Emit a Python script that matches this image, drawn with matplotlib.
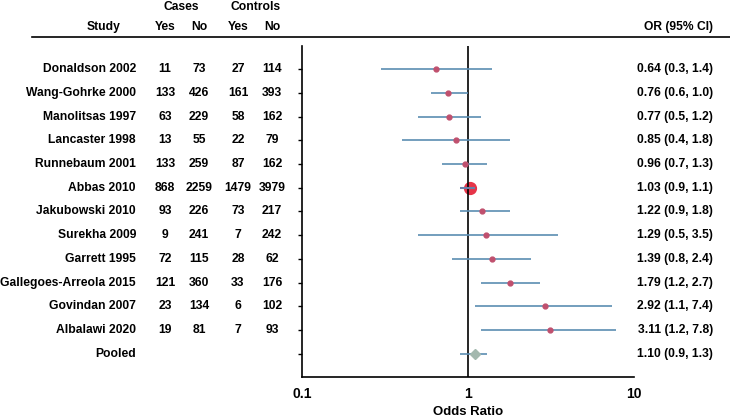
import matplotlib
matplotlib.use("Agg")
import matplotlib.pyplot as plt
import numpy as np

plt.rcParams['font.family'] = ['Liberation Sans', 'DejaVu Sans']
plt.rcParams['font.weight'] = 'bold'

studies = ["Donaldson 2002", "Wang-Gohrke 2000", "Manolitsas 1997", "Lancaster 1998",
           "Runnebaum 2001", "Abbas 2010", "Jakubowski 2010", "Surekha 2009",
           "Garrett 1995", "Gallegoes-Arreola 2015", "Govindan 2007", "Albalawi 2020", "Pooled"]
cases_yes = ["11", "133", "63", "13", "133", "868", "93", "9", "72", "121", "23", "19", ""]
cases_no = ["73", "426", "229", "55", "259", "2259", "226", "241", "115", "360", "134", "81", ""]
ctrl_yes = ["27", "161", "58", "22", "87", "1479", "73", "7", "28", "33", "6", "7", ""]
ctrl_no = ["114", "393", "162", "79", "162", "3979", "217", "242", "62", "176", "102", "93", ""]
odds = [0.64, 0.76, 0.77, 0.85, 0.96, 1.03, 1.22, 1.29, 1.39, 1.79, 2.92, 3.11, 1.10]
lower = [0.3, 0.6, 0.5, 0.4, 0.7, 0.9, 0.9, 0.5, 0.8, 1.2, 1.1, 1.2, 0.9]
upper = [1.4, 1.0, 1.2, 1.8, 1.3, 1.1, 1.8, 3.5, 2.4, 2.7, 7.4, 7.8, 1.3]
or_labels = ["0.64 (0.3, 1.4)", "0.76 (0.6, 1.0)", "0.77 (0.5, 1.2)", "0.85 (0.4, 1.8)",
             "0.96 (0.7, 1.3)", "1.03 (0.9, 1.1)", "1.22 (0.9, 1.8)", "1.29 (0.5, 3.5)",
             "1.39 (0.8, 2.4)", "1.79 (1.2, 2.7)", "2.92 (1.1, 7.4)", "3.11 (1.2, 7.8)",
             "1.10 (0.9, 1.3)"]
xticks = [0.1, 1, 10]
xtick_labels = ["0.1", "1", "10"]

W, H = 730, 419
fig = plt.figure(figsize=(W / 100, H / 100), dpi=100)
ax = fig.add_axes([302 / W, 1 - 377 / H, (634 - 302) / W, (377 - 46) / H])

n = len(studies)
y = np.arange(n)
line_col = "#5B8DB2"
pt_col = "#C0506E"
fs = 8.7

ax.hlines(y, lower, upper, color=line_col, lw=1.2, zorder=2)
for i in range(n):
    if studies[i] == "Pooled":
        ax.plot(odds[i], y[i], marker='D', ms=5.5, color="#A3B8AE", zorder=3)
    elif studies[i] == "Abbas 2010":
        ax.plot(odds[i], y[i], marker='o', ms=8.5, color="#E63448", zorder=1)
        ax.hlines(y[i], lower[i], upper[i], color="#6A7FA8", lw=1.5, zorder=3)
    else:
        ax.plot(odds[i], y[i], marker='o', ms=3.5, color=pt_col, zorder=3)

ax.axvline(1, color='black', lw=1.2, zorder=1)
ax.set_xscale('log')
ax.set_xlim(0.1, 10)
ax.set_ylim(n - 0.03, -0.97)
ax.set_xticks(xticks)
ax.set_xticklabels(xtick_labels, fontsize=10, fontweight='bold')
ax.xaxis.set_minor_locator(matplotlib.ticker.NullLocator())
ax.set_yticks(y)
ax.set_yticklabels([])
ax.tick_params(axis='y', length=3, width=1, direction='out')
ax.tick_params(axis='x', length=0, pad=7)
for s in ['top', 'right']:
    ax.spines[s].set_visible(False)
for s in ['left', 'bottom']:
    ax.spines[s].set_linewidth(1.2)
ax.set_xlabel("Odds Ratio", fontsize=9.5, fontweight='bold', labelpad=4)

def fy(row):
    return ax.transData.transform((1, row))[1] / H

fig.canvas.draw()
col_x = [165, 199, 238, 272]
for i in range(n):
    yy = fy(y[i])
    fig.text(136 / W, yy, studies[i], ha='right', va='center', fontsize=fs, fontweight='bold')
    for cx, vals in zip(col_x, [cases_yes, cases_no, ctrl_yes, ctrl_no]):
        fig.text(cx / W, yy, vals[i], ha='center', va='center', fontsize=fs, fontweight='bold')
    fig.text(713 / W, yy, or_labels[i], ha='right', va='center', fontsize=fs, fontweight='bold')

fig.text(121 / W, 1 - 27 / H, "Study", ha='right', va='center', fontsize=fs, fontweight='bold')
fig.text(181 / W, 1 - 7 / H, "Cases", ha='center', va='center', fontsize=fs, fontweight='bold')
fig.text(256 / W, 1 - 7 / H, "Controls", ha='center', va='center', fontsize=fs, fontweight='bold')
for cx, t in zip(col_x, ["Yes", "No", "Yes", "No"]):
    fig.text(cx / W, 1 - 27 / H, t, ha='center', va='center', fontsize=fs, fontweight='bold')
fig.text(713 / W, 1 - 27 / H, "OR (95% CI)", ha='right', va='center', fontsize=fs, fontweight='bold')

fig.add_artist(plt.Line2D([32 / W, 1], [1 - 37.5 / H, 1 - 37.5 / H], color='black', lw=1.2,
                          transform=fig.transFigure))

fig.savefig("out.png", dpi=100, facecolor='white')
